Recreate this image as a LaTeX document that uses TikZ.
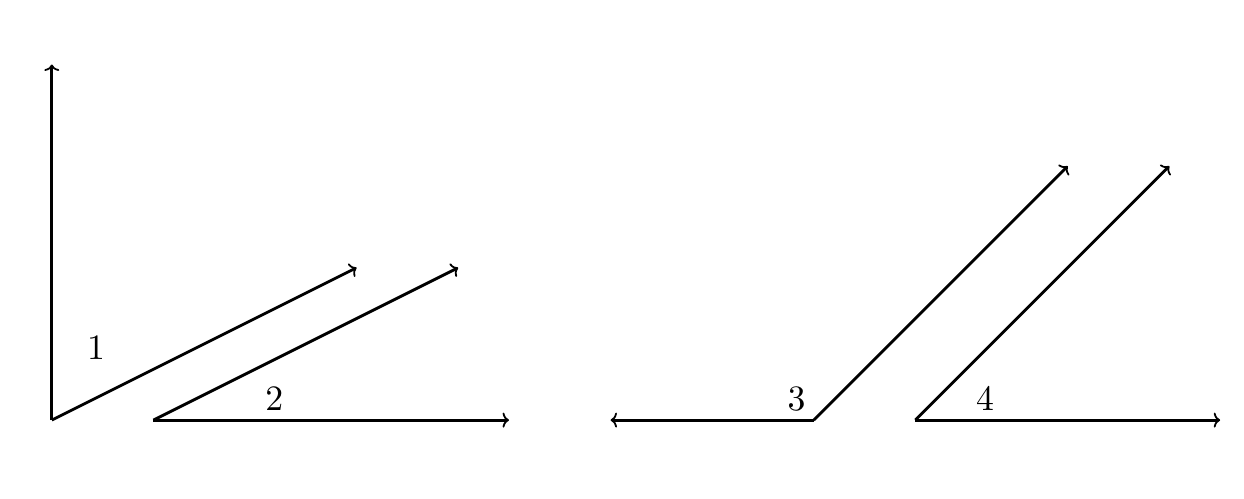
\documentclass[tikz,border=0pt]{standalone}
\usepackage{amsmath}
\usepackage{tikz}
\usetikzlibrary{arrows.meta, positioning}

\begin{document}
\begin{tikzpicture} [x = 0.5cm, y = 0.5cm, thick, >={To[length=1.8pt, width=4.2pt, line width=0.5pt]}]

\useasboundingbox (-1.02,-1.54) rectangle (23.47,8.27);

\coordinate (o1) at (0,0);
\coordinate (y1) at (0,7);
\coordinate (d1) at (6,3);
\coordinate (o2) at (2,0);
\coordinate (d2) at (8,3);
\coordinate (x2) at (9,0);

\coordinate (o3) at (15,0);
\coordinate (x3) at (11,0);
\coordinate (d3) at (20,5);
\coordinate (o4) at (17,0);
\coordinate (d4) at (22,5);
\coordinate (x4) at (23,0);

\node (a1) at (0.87,1.41) {$1$};
\node (a2) at (4.38,0.41) {$2$};
\node (a3) at (14.66,0.41) {$3$};
\node (a4) at (18.37,0.41) {$4$};

\draw [->] (o1) -- (y1);
\draw [->] (o1) -- (d1);
\draw [->] (o2) -- (d2);
\draw [->] (o2) -- (x2);

\draw [->] (o3) -- (x3);
\draw [->] (o3) -- (d3);
\draw [->] (o4) -- (d4);
\draw [->] (o4) -- (x4);

\end{tikzpicture}
\end{document}
